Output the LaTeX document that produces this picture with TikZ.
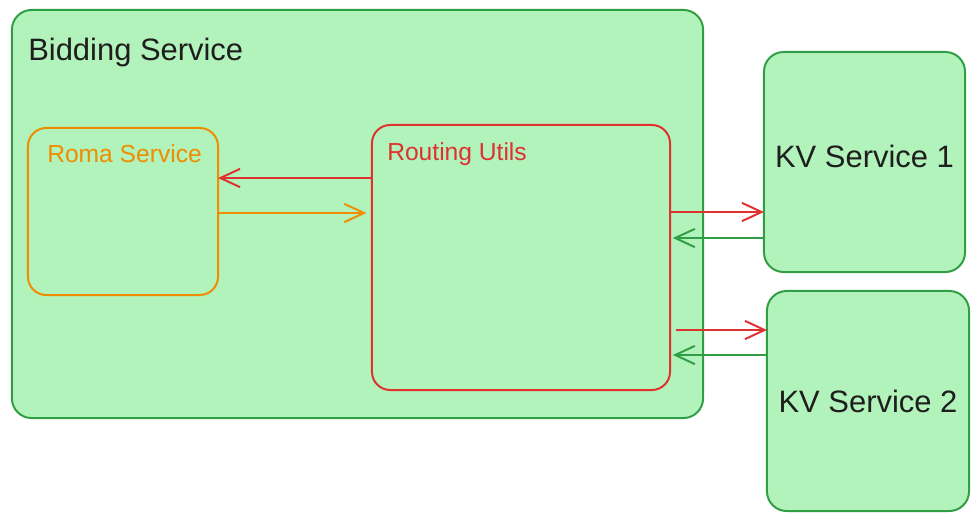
\documentclass[tikz,border=0pt]{standalone}
\usepackage{fontspec}
\setmainfont{Liberation Sans}
\usetikzlibrary{arrows.meta}

\definecolor{boxfill}{HTML}{B2F2BB}
\definecolor{boxgreen}{HTML}{2F9E44}
\definecolor{romaorange}{HTML}{F08C00}
\definecolor{routred}{HTML}{E03131}
\definecolor{inktext}{HTML}{1E1E1E}

\tikzset{
  svcbox/.style={draw=boxgreen,fill=boxfill,line width=1.4pt,rounded corners=14pt,
    inner sep=0pt,outer sep=0pt},
  innerbox/.style={draw=#1,line width=1.4pt,rounded corners=13pt,inner sep=0pt,outer sep=0pt},
  boxlabel/.style={anchor=west,inner sep=0pt,text=#1},
  link/.style={draw=#1,line width=1.4pt,-{Straight Barb[length=14pt,width=13pt]}},
}

\begin{document}
\begin{tikzpicture}[x=0.025cm,y=-0.025cm]
\useasboundingbox (0,0) rectangle (975,521);

\node[svcbox,minimum width=17.275cm,minimum height=10.2cm] (bidding) at (357.5,214) {};
\node[boxlabel=inktext,font=\fontsize{22}{26}\selectfont] (biddinglabel) at (28,52) {Bidding Service};

\node[innerbox=romaorange,minimum width=4.75cm,minimum height=4.175cm] (roma) at (123,211.5) {};
\node[boxlabel=romaorange,font=\fontsize{17.5}{21}\selectfont] (romalabel) at (47,154) {Roma Service};

\node[innerbox=routred,minimum width=7.45cm,minimum height=6.625cm] (routing) at (521,257.5) {};
\node[boxlabel=routred,font=\fontsize{17.5}{21}\selectfont] (routinglabel) at (387,154) {Routing Utils};

\node[svcbox,text=inktext,font=\fontsize{22}{26}\selectfont,minimum width=5.025cm,minimum height=5.5cm] (kvone) at (864.5,162) {};
\node[text=inktext,font=\fontsize{22}{26}\selectfont,inner sep=0pt] (kvonelabel) at (864.5,156) {KV Service 1};
\node[svcbox,text=inktext,font=\fontsize{22}{26}\selectfont,minimum width=5.05cm,minimum height=5.5cm] (kvtwo) at (868,401) {};
\node[text=inktext,font=\fontsize{22}{26}\selectfont,inner sep=0pt] (kvtwolabel) at (868,401) {KV Service 2};

% roma <-> routing
\draw[link=routred] (routing.west |- 0,178) -- (roma.east |- 0,178);
\draw[link=romaorange] (roma.east |- 0,213) -- ([xshift=-4]routing.west |- 0,213);

% routing <-> kv services
\draw[link=routred] (routing.east |- 0,212) -- (kvone.west |- 0,212);
\draw[link=boxgreen] (kvone.west |- 0,238) -- ([xshift=2]routing.east |- 0,238);
\draw[link=routred] ([xshift=4]routing.east |- 0,330) -- (kvtwo.west |- 0,330);
\draw[link=boxgreen] (kvtwo.west |- 0,355) -- ([xshift=2]routing.east |- 0,355);
\end{tikzpicture}
\end{document}
